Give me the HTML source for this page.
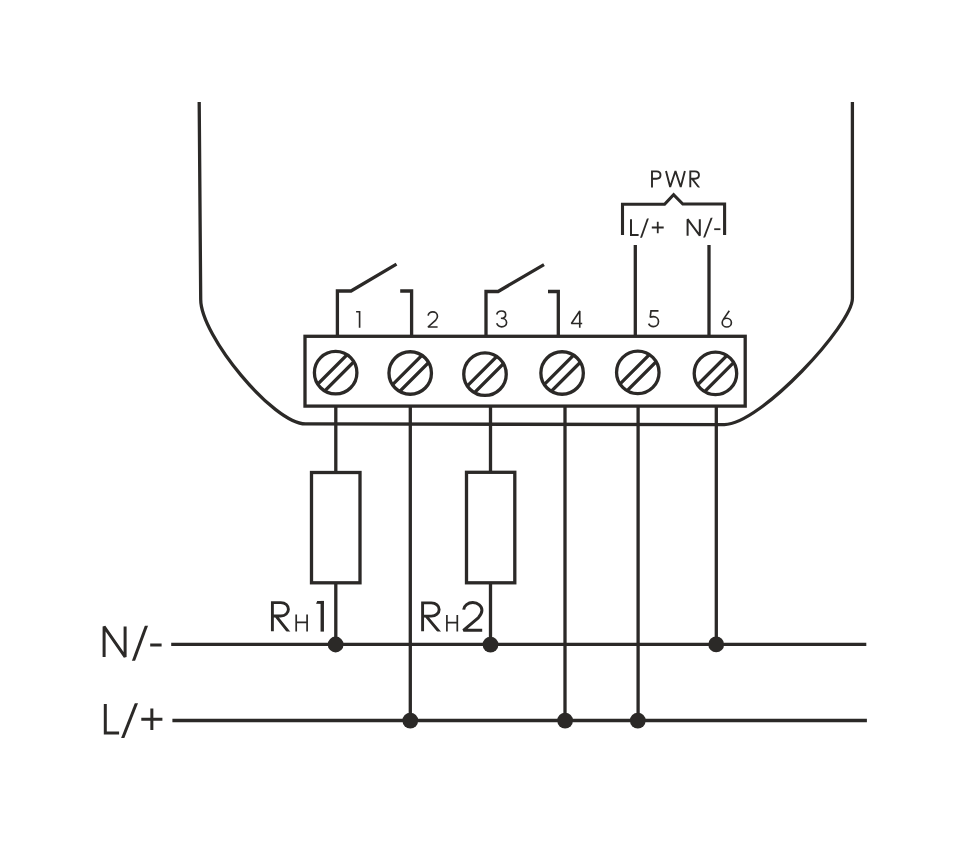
<!DOCTYPE html>
<html><head><meta charset="utf-8"><style>
html,body{margin:0;padding:0;background:#fff;}
body{width:970px;height:841px;overflow:hidden;font-family:"Liberation Sans",sans-serif;}
svg{display:block;}
</style></head><body>
<svg width="970" height="841" viewBox="0 0 970 841" fill="none" stroke="#2b2927" stroke-linecap="butt" stroke-linejoin="miter">
<path d="M199.2 102 L200.7 299.25 C200.7 336.11 273.66 423.9 305.46 423.9 L724.35 424.6 C760.26 424.6 852.4 324.34 852.4 298.53 L852.4 102" stroke-width="3.30" stroke-linejoin="round"/>
<rect x="305" y="336.3" width="440.2" height="69.8" stroke-width="3.3"/>
<defs>
<clipPath id="c0"><circle cx="335.65" cy="372.70" r="21.25"/></clipPath>
<clipPath id="c1"><circle cx="410.20" cy="373.00" r="21.25"/></clipPath>
<clipPath id="c2"><circle cx="485.00" cy="374.20" r="21.25"/></clipPath>
<clipPath id="c3"><circle cx="562.10" cy="373.00" r="21.25"/></clipPath>
<clipPath id="c4"><circle cx="637.80" cy="372.40" r="21.25"/></clipPath>
<clipPath id="c5"><circle cx="715.45" cy="373.40" r="21.25"/></clipPath>
</defs>
<circle cx="335.65" cy="372.70" r="21.25" stroke-width="3.30"/>
<path d="M311.17 390.65 L353.60 348.22 M318.10 397.58 L360.53 355.15" stroke-width="3.30" clip-path="url(#c0)"/>
<circle cx="410.20" cy="373.00" r="21.25" stroke-width="3.30"/>
<path d="M386.02 391.24 L428.44 348.82 M392.95 398.17 L435.37 355.75" stroke-width="3.30" clip-path="url(#c1)"/>
<circle cx="485.00" cy="374.20" r="21.25" stroke-width="3.30"/>
<path d="M460.82 392.44 L503.24 350.02 M467.75 399.37 L510.17 356.95" stroke-width="3.30" clip-path="url(#c2)"/>
<circle cx="562.10" cy="373.00" r="21.25" stroke-width="3.30"/>
<path d="M537.70 391.03 L580.13 348.60 M544.63 397.96 L587.06 355.53" stroke-width="3.30" clip-path="url(#c3)"/>
<circle cx="637.80" cy="372.40" r="21.25" stroke-width="3.30"/>
<path d="M613.48 390.50 L655.90 348.08 M620.41 397.43 L662.83 355.01" stroke-width="3.30" clip-path="url(#c4)"/>
<circle cx="715.45" cy="373.40" r="21.25" stroke-width="3.30"/>
<path d="M691.02 391.40 L733.45 348.97 M697.95 398.33 L740.38 355.90" stroke-width="3.30" clip-path="url(#c5)"/>
<path d="M337.4 336 V291 H351 L396.5 264.2" stroke-width="3.30" stroke-linejoin="miter"/>
<path d="M411.6 336 V291 H400.2" stroke-width="3.30"/>
<path d="M486 336 V291.5 H498.1 L544 264.6" stroke-width="3.30"/>
<path d="M558.3 336 V291.5 H548" stroke-width="3.30"/>
<path d="M635.3 336 V245" stroke-width="3.30"/>
<path d="M709 336 V245" stroke-width="3.30"/>
<path d="M622.5 235.1 V204.2 H664.6 L673.6 194.7 L682.8 204.0 H724.6 V235.1" stroke-width="3.1"/>
<path d="M335.8 406 V472.5 M335.8 582.8 V644.4" stroke-width="3.30"/>
<rect x="311.5" y="472.5" width="48.5" height="110.3" stroke-width="3.30"/>
<path d="M490.5 406 V472.3 M490.5 582.8 V644.4" stroke-width="3.30"/>
<rect x="466.5" y="472.3" width="48.3" height="110.5" stroke-width="3.30"/>
<path d="M410.3 406 V720.5" stroke-width="3.30"/>
<path d="M565 406 V720.5" stroke-width="3.30"/>
<path d="M638.1 406 V720.5" stroke-width="3.30"/>
<path d="M716.3 406 V644.4" stroke-width="3.30"/>
<path d="M171.2 644.4 H866.3" stroke-width="3.30"/>
<path d="M172.4 720.5 H866.9" stroke-width="3.30"/>
<circle cx="335.65" cy="644.50" r="7.9" fill="#2b2927" stroke="none"/>
<circle cx="490.50" cy="644.60" r="7.9" fill="#2b2927" stroke="none"/>
<circle cx="716.20" cy="644.40" r="7.9" fill="#2b2927" stroke="none"/>
<circle cx="410.30" cy="720.60" r="7.9" fill="#2b2927" stroke="none"/>
<circle cx="565.10" cy="720.60" r="7.9" fill="#2b2927" stroke="none"/>
<circle cx="637.80" cy="720.60" r="7.9" fill="#2b2927" stroke="none"/>
<path d="M359.6 310.9 V327.7 M356.1 311.7 H360.4" stroke-width="1.65"/>
<path d="M 428.15 315.67 C 428.29 313.56 430.33 311.90 432.80 311.90 C 435.42 311.90 437.45 313.71 437.45 316.13 C 437.45 317.64 436.73 318.85 435.71 320.05 L 428.00 327.00 L 437.60 327.00" stroke-width="1.65" stroke-miterlimit="1.6"/>
<path d="M 496.75 314.48 C 497.23 312.42 499.13 311.00 501.52 311.00 C 503.90 311.00 505.65 312.58 505.65 314.63 C 505.65 316.85 503.74 318.27 500.88 318.27 C 504.06 318.27 506.60 320.01 506.60 322.53 C 506.60 325.06 504.38 326.80 501.68 326.80 C 499.45 326.80 497.54 325.54 496.75 323.32" stroke-width="1.65" stroke-miterlimit="1.6"/>
<path d="M 579.76 327.70 L 579.76 311.00 L 571.40 323.52 L 582.20 323.52" stroke-width="1.65" stroke-miterlimit="1.6"/>
<path d="M 658.50 310.80 L 651.00 310.80 L 650.20 317.28 C 651.15 316.80 652.27 316.65 653.55 316.65 C 656.26 316.65 658.50 318.70 658.50 321.54 C 658.50 324.39 656.26 326.60 653.39 326.60 C 651.15 326.60 649.40 325.34 648.60 323.60" stroke-width="1.65" stroke-miterlimit="1.6"/>
<path d="M 729.30 310.80 L 723.01 319.87 M 726.80 318.25 C 729.34 318.25 731.40 320.21 731.40 322.63 C 731.40 325.04 729.34 327.00 726.80 327.00 C 724.26 327.00 722.20 325.04 722.20 322.63 C 722.20 320.21 724.26 318.25 726.80 318.25 Z" stroke-width="1.65" stroke-miterlimit="1.6"/>
<path d="M 652.00 187.40 L 652.00 171.40 L 656.55 171.40 C 658.98 171.40 660.50 173.00 660.50 175.08 C 660.50 177.16 658.98 178.76 656.55 178.76 L 652.00 178.76" stroke-width="1.90" stroke-miterlimit="1.6"/>
<path d="M 666.00 171.00 L 670.18 187.00 L 675.45 171.00 L 680.72 187.00 L 684.90 171.00" stroke-width="1.90" stroke-miterlimit="1.6"/>
<clipPath id="g1"><rect x="685.30" y="166.40" width="19.40" height="21.00"/></clipPath>
<path d="M 690.30 187.40 L 690.30 171.40 L 694.85 171.40 C 697.27 171.40 698.94 173.00 698.94 175.08 C 698.94 177.16 697.27 178.76 694.85 178.76 L 690.30 178.76 M 692.12 178.76 L 699.40 188.04" stroke-width="1.90" stroke-miterlimit="1.6" clip-path="url(#g1)"/>
<path d="M 631.00 219.20 L 631.00 235.00 L 638.60 235.00" stroke-width="2.00" stroke-miterlimit="1.6"/>
<clipPath id="g2"><rect x="636.00" y="218.40" width="16.90" height="19.40"/></clipPath>
<path d="M 640.59 238.96 L 648.31 217.24" stroke-width="1.80" stroke-miterlimit="1.6" clip-path="url(#g2)"/>
<path d="M 651.80 227.50 L 663.70 227.50 M 657.75 221.83 L 657.75 233.17" stroke-width="1.80" stroke-miterlimit="1.6"/>
<path d="M 687.60 235.70 L 687.60 219.20 L 699.80 235.70 L 699.80 219.20" stroke-width="2.00" stroke-miterlimit="1.6"/>
<clipPath id="g3"><rect x="699.20" y="217.80" width="17.40" height="19.60"/></clipPath>
<path d="M 703.76 238.58 L 712.04 216.62" stroke-width="1.80" stroke-miterlimit="1.6" clip-path="url(#g3)"/>
<path d="M 714.20 229.20 L 720.40 229.20" stroke-width="1.80" stroke-miterlimit="1.6"/>
<path d="M 104.10 656.90 L 104.10 626.60 L 125.10 656.90 L 125.10 626.60" stroke-width="3.00" stroke-miterlimit="1.6"/>
<clipPath id="g4"><rect x="128.50" y="625.80" width="22.90" height="35.00"/></clipPath>
<path d="M 132.73 662.90 L 147.17 623.70" stroke-width="3.00" stroke-miterlimit="1.6" clip-path="url(#g4)"/>
<path d="M 150.20 645.00 L 161.60 645.00" stroke-width="3.00" stroke-miterlimit="1.6"/>
<path d="M 105.30 704.00 L 105.30 732.90 L 119.10 732.90" stroke-width="3.00" stroke-miterlimit="1.6"/>
<clipPath id="g5"><rect x="117.70" y="703.20" width="23.70" height="34.90"/></clipPath>
<path d="M 121.88 740.19 L 137.22 701.11" stroke-width="3.00" stroke-miterlimit="1.6" clip-path="url(#g5)"/>
<path d="M 141.30 719.20 L 162.40 719.20 M 151.85 708.42 L 151.85 729.98" stroke-width="3.00" stroke-miterlimit="1.6"/>
<clipPath id="g6"><rect x="267.40" y="597.60" width="27.40" height="34.00"/></clipPath>
<path d="M 272.40 631.60 L 272.40 602.60 L 280.82 602.60 C 285.31 602.60 288.40 605.50 288.40 609.27 C 288.40 613.04 285.31 615.94 280.82 615.94 L 272.40 615.94 M 275.77 615.94 L 289.24 632.76" stroke-width="2.90" stroke-miterlimit="1.6" clip-path="url(#g6)"/>
<path d="M 296.20 614.40 L 296.20 631.60 M 307.10 614.40 L 307.10 631.60 M 296.20 622.31 L 307.10 622.31" stroke-width="1.70" stroke-miterlimit="1.6"/>
<path d="M322.25 600.9 V631.6" stroke-width="3.4"/><path d="M317.2 600.9 L323.9 600.9 L323.9 604.0 L316.1 603.7 Z" fill="#2b2927" stroke="none"/>
<clipPath id="g7"><rect x="417.60" y="597.90" width="28.00" height="33.70"/></clipPath>
<path d="M 422.60 631.60 L 422.60 602.90 L 431.31 602.90 C 435.95 602.90 439.15 605.77 439.15 609.50 C 439.15 613.23 435.95 616.10 431.31 616.10 L 422.60 616.10 M 426.08 616.10 L 440.02 632.75" stroke-width="2.90" stroke-miterlimit="1.6" clip-path="url(#g7)"/>
<path d="M 446.90 614.90 L 446.90 631.60 M 457.30 614.90 L 457.30 631.60 M 446.90 622.58 L 457.30 622.58" stroke-width="1.70" stroke-miterlimit="1.6"/>
<path d="M 463.68 609.52 C 463.97 605.65 467.96 602.60 472.80 602.60 C 477.93 602.60 481.92 605.92 481.92 610.36 C 481.92 613.13 480.49 615.34 478.50 617.56 L 463.40 630.30 L 482.20 630.30" stroke-width="3.00" stroke-miterlimit="1.6"/>
</svg>
</body></html>
